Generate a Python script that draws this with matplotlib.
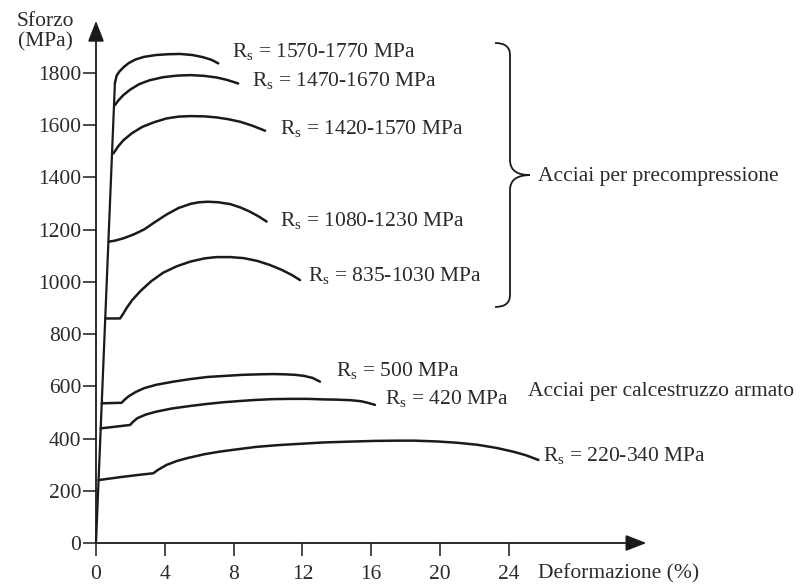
import matplotlib
matplotlib.use("Agg")
import matplotlib.pyplot as plt
from matplotlib.path import Path
from matplotlib.patches import PathPatch

plt.rcParams['font.family'] = ['Liberation Serif', 'DejaVu Serif']
plt.rcParams['mathtext.fontset'] = 'custom'
plt.rcParams['mathtext.rm'] = 'Liberation Serif'
plt.rcParams['mathtext.it'] = 'Liberation Serif:italic'

INK = '#1c1a18'
TXT = '#2a2a2a'

# ---- data (strain %, stress MPa) ----
elastic_strain = [0.0, 1.10]
elastic_stress = [0, 1762]

strain_1570 = [1.10, 1.20, 1.35, 1.60, 1.90, 2.30, 2.80, 3.50, 4.20, 4.90, 5.60, 6.20, 6.70, 7.11]
stress_1570 = [1762, 1790, 1805, 1822, 1838, 1852, 1862, 1869, 1872, 1873, 1869, 1861, 1851, 1837]

strain_1470 = [1.10, 1.30, 1.60, 2.00, 2.50, 3.10, 3.90, 4.70, 5.50, 6.30, 7.00, 7.60, 8.27]
stress_1470 = [1677, 1695, 1716, 1737, 1757, 1772, 1784, 1790, 1792, 1789, 1783, 1774, 1760]

strain_1420 = [1.01, 1.30, 1.60, 2.10, 2.70, 3.40, 4.10, 4.80, 5.50, 6.30, 7.00, 7.70, 8.40, 9.10, 9.83]
stress_1420 = [1492, 1520, 1543, 1570, 1594, 1612, 1626, 1633, 1635, 1634, 1630, 1623, 1613, 1598, 1579]

strain_1080 = [0.74, 1.10, 1.60, 2.20, 2.80, 3.40, 4.10, 4.80, 5.50, 6.00, 6.50, 7.10, 7.80, 8.40,
               8.95, 9.45, 9.92]
stress_1080 = [1154, 1158, 1167, 1182, 1201, 1228, 1258, 1283, 1299, 1305, 1307, 1305, 1298, 1285,
               1269, 1251, 1231]

strain_835 = [0.54, 1.40, 1.60, 1.80, 2.10, 2.60, 3.20, 3.90, 4.70, 5.50, 6.30, 7.00, 7.80, 8.60,
              9.40, 10.10, 10.80, 11.40, 11.86]
stress_835 = [860, 860, 880, 902, 930, 966, 1002, 1035, 1060, 1078, 1090, 1095, 1095, 1091,
              1080, 1065, 1046, 1026, 1007]

strain_500 = [0.33, 1.49, 1.65, 1.90, 2.30, 2.80, 3.50, 4.50, 5.50, 6.50, 7.50, 8.50, 9.50, 10.30,
              11.00, 11.60, 12.10, 12.60, 13.02]
stress_500 = [535, 537, 548, 562, 578, 593, 606, 618, 628, 636, 640, 644, 646, 647,
              646, 644, 640, 632, 618]

strain_420 = [0.27, 1.98, 2.15, 2.40, 2.90, 3.50, 4.40, 5.50, 6.50, 7.40, 8.40, 9.30, 10.30, 11.30,
              12.30, 13.20, 14.00, 14.80, 15.40, 15.80, 16.22]
stress_420 = [439, 452, 464, 478, 492, 503, 515, 525, 533, 539, 544, 548, 551, 552,
              552, 550, 549, 547, 543, 537, 529]

strain_220 = [0.15, 1.50, 2.50, 3.33, 3.60, 4.10, 4.70, 5.30, 6.30, 7.20, 8.00, 9.30, 10.60, 11.90,
              13.20, 14.60, 16.20, 17.60, 18.50, 19.80, 21.00, 22.20, 23.30, 24.30, 25.00, 25.72]
stress_220 = [241, 253, 261, 267, 280, 299, 314, 325, 340, 350, 357, 368, 375, 380,
              385, 388, 391, 392, 392, 389, 384, 376, 364, 349, 336, 318]

curves = [
    (strain_1570, stress_1570, r'R$_{\rm s}$ = 1570-1770 MPa', (7.89, 1882)),
    (strain_1470, stress_1470, r'R$_{\rm s}$ = 1470-1670 MPa', (9.05, 1773)),
    (strain_1420, stress_1420, r'R$_{\rm s}$ = 1420-1570 MPa', (10.70, 1588)),
    (strain_1080, stress_1080, r'R$_{\rm s}$ = 1080-1230 MPa', (10.70, 1237)),
    (strain_835, stress_835, r'R$_{\rm s}$ = 835-1030 MPa', (12.35, 1026)),
    (strain_500, stress_500, r'R$_{\rm s}$ = 500 MPa', (13.95, 660)),
    (strain_420, stress_420, r'R$_{\rm s}$ = 420 MPa', (16.80, 554)),
    (strain_220, stress_220, r'R$_{\rm s}$ = 220-340 MPa', (26.0, 337)),
]

x_ticks = [0, 4, 8, 12, 16, 20, 24]
y_ticks = [0, 200, 400, 600, 800, 1000, 1200, 1400, 1600, 1800]

# ---- figure ----
fig = plt.figure(figsize=(8.0, 5.87), dpi=100)
ax = fig.add_axes([96 / 800, 44 / 587, 550.4 / 800, 522.2 / 587])
ax.set_xlim(0, 32)
ax.set_ylim(0, 2000)
for s in ax.spines.values():
    s.set_visible(False)

FS = 15.5
ax.set_xticks(x_ticks)
ax.set_yticks(y_ticks)
ax.set_xticklabels([str(v) for v in x_ticks])
ax.set_yticklabels([str(v) for v in y_ticks])
ax.tick_params(axis='both', direction='out', length=9.5, width=1.1, color=INK,
               labelsize=FS, labelcolor=TXT)
ax.tick_params(axis='y', pad=1.0)
ax.tick_params(axis='x', pad=6.5)

# axes with arrows
arrow_kw = dict(arrowstyle='-|>,head_length=0.9,head_width=0.35', lw=1.3, color=INK,
                shrinkA=0, shrinkB=0, mutation_scale=14)
ax.annotate('', xy=(0, 2000), xytext=(0, 0), arrowprops=arrow_kw, annotation_clip=False)
ax.annotate('', xy=(32, 0), xytext=(0, 0), arrowprops=arrow_kw, annotation_clip=False)

# elastic branch
ax.plot(elastic_strain, elastic_stress, color=INK, lw=1.6, solid_capstyle='round', clip_on=False)

for xs, ys, label, pos in curves:
    ax.plot(xs, ys, color=INK, lw=1.8, solid_capstyle='round', solid_joinstyle='round',
            clip_on=False)
    ax.text(pos[0], pos[1], label, fontsize=FS, color=TXT, ha='left', va='center')

# brace for prestressing steels
bx0, bx1, bx2 = 23.2, 24.07, 25.23
by_top, by_top2, by_m1, by_tip, by_m2, by_bot2, by_bot = 1915, 1869, 1467, 1409, 1352, 950, 904
verts = [(bx0, by_top), (bx1, by_top), (bx1, by_top2), (bx1, by_m1),
         (bx1, by_tip), (bx2, by_tip), (bx1, by_tip), (bx1, by_m2),
         (bx1, by_bot2), (bx1, by_bot), (bx0, by_bot)]
codes = [Path.MOVETO, Path.CURVE3, Path.CURVE3, Path.LINETO,
         Path.CURVE3, Path.CURVE3, Path.CURVE3, Path.CURVE3,
         Path.LINETO, Path.CURVE3, Path.CURVE3]
ax.add_patch(PathPatch(Path(verts, codes), fill=False, lw=1.3, color=INK, clip_on=False))

ax.text(25.7, 1403, 'Acciai per precompressione', fontsize=FS, color=TXT, ha='left', va='center')
ax.text(25.13, 580, 'Acciai per calcestruzzo armato', fontsize=FS, color=TXT, ha='left',
        va='center', clip_on=False)

fig.text(45 / 800, 1 - 32 / 587, 'Sforzo\n(MPa)', fontsize=FS, color=TXT, ha='center',
         va='center', linespacing=1.1)
fig.text(538 / 800, 1 - 574 / 587, 'Deformazione (%)', fontsize=FS, color=TXT, ha='left',
         va='center')

fig.savefig('out.png', dpi=100, facecolor='white')
